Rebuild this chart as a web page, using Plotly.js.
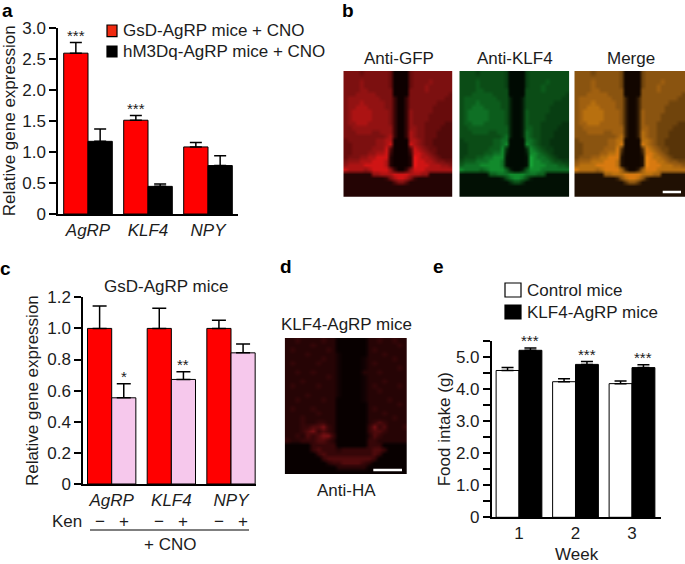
<!DOCTYPE html>
<html><head><meta charset="utf-8">
<script src="https://cdn.plot.ly/plotly-3.0.1.min.js"></script>
<style>html,body{margin:0;padding:0;background:#fff}</style></head>
<body><div id="chart" style="width:685px;height:564px"></div>
<script>
// ---- panel a
const genes = ['AgRP','KLF4','NPY'];
const aGsd = [2.59,1.51,1.08];
const aGsdErr = [0.17,0.075,0.07];
const aHm3 = [1.17,0.445,0.78];
const aHm3Err = [0.20,0.04,0.16];
const aStars = ['***','***',''];
// ---- panel c
const cNoKen = [1.0,1.0,1.0];
const cNoKenErr = [0.144,0.13,0.052];
const cKen = [0.554,0.672,0.843];
const cKenErr = [0.09,0.05,0.057];
const cStars = ['*','**',''];
// ---- panel e
const weeks = ['1','2','3'];
const eControl = [4.58,4.23,4.17];
const eControlErr = [0.09,0.09,0.08];
const eKlf = [5.21,4.77,4.67];
const eKlfErr = [0.07,0.09,0.09];
const eStars = ['***','***','***'];
// ---- micrographs: coarse brightness (0-9)
const sectionRows = [
"555545555554000045555555555",
"555555555554000045555555555",
"555565555554000045555655555",
"555565555554000045556555555",
"555566555555000055556555555",
"555666665555000055555555554",
"566666666555200255555555544",
"566676666655200255555554444",
"566777666655200255555544444",
"567777766665200265555544444",
"567777766665200265555444444",
"567777766665200265555444444",
"566777666665200265554444433",
"556666666666200266554444333",
"555666655666200276554443333",
"555555555567200276554443333",
"455555556677000077654433333",
"445555556678000087654433333",
"445555566683000038765443333",
"445555667782000028876543333",
"455566778881000019877654333",
"566677788871000019887765544",
"677778888871000019888777665",
"877776788886200268887777777",
"111111166777888877766111111",
"111111111125788752111111111",
"111111111111355311111111111",
"111111111111111111111111111",
"111111111111111111111111111",
"111111111111111111111111111"];
const haRows = [
"223222232200000022322322",
"222223222200000022222232",
"232222223200000023222222",
"222232222210000022232222",
"222222232210000122222322",
"232222322210000123222222",
"222222222210000122222232",
"223223222210000222322222",
"222222223210000122222222",
"222322222210000122232222",
"232222322210000123222232",
"222222222210000122322222",
"222232222210000122222222",
"223222232200000122223222",
"222222222200000022222232",
"232223222200000023222222",
"222222322200000022232222",
"222322222200000022222322",
"222322332200000023432222",
"222334453200000035342223",
"222345343200000034432222",
"223243455300000024322222",
"322333443200000033222222",
"000003333300000033300000",
"000003433323333334430000",
"000000343333333334300000",
"000000034444444443000000",
"000000002334444320000000",
"000000000022222200000000",
"000000000000000000000000"];
const toGrid = rows => rows.map(r => r.split('').map(Number));
const sectionZ = toGrid(sectionRows);
const haZ = toGrid(haRows);

const FONT = 'Liberation Sans, Arial, sans-serif';
const INK = '#1c1c1c';
const W = 685, H = 564;
const px = x => x / W, py = y => 1 - y / H;
const barTrace = (x, y, err, fill, name, ax, cap) => ({
  type:'bar', x, y, name, xaxis:'x'+ax, yaxis:'y'+ax, showlegend:false,
  marker:{color:fill, line:{color:'#000', width:1}},
  error_y:{type:'data', symmetric:false, array:err, arrayminus:err.map(()=>0), color:'#000', thickness:1.5, width:cap},
  hoverinfo:'x+y'
});
const imgTrace = (z, ax, scale) => ({
  type:'heatmap', z, xaxis:'x'+ax, yaxis:'y'+ax, colorscale:scale, zmin:0, zmax:9, zauto:false,
  zsmooth:'best', showscale:false, hoverinfo:'skip'
});
const steps = cols => cols.map((c,i) => [i/(cols.length-1), c]);
const redScale   = steps(['#0e0000','#240404','#3a0606','#520909','#680c0c','#7c1010','#921212','#ac1313','#d01414','#f01616']);
const greenScale = steps(['#000a02','#021004','#041e08','#06300e','#083e12','#0b4c16','#0c5c1c','#0f7025','#128a2c','#18a838']);
const mergeScale = steps(['#120600','#201003','#3c2206','#583408','#70440c','#8a5410','#a06010','#b8700f','#d87a10','#f08a14']);
const haScale    = steps(['#080000','#120203','#260405','#360608','#500a0c','#781014','#b01c28','#e03040','#f04050','#ff5060']);

const data = [
  barTrace(genes,aGsd,aGsdErr,'#ff0000','GsD-AgRP mice + CNO','',6),
  barTrace(genes,aHm3,aHm3Err,'#000000','hM3Dq-AgRP mice + CNO','',6),
  barTrace(genes,cNoKen,cNoKenErr,'#ff0000','Ken −','2',7),
  barTrace(genes,cKen,cKenErr,'#f6c8ec','Ken +','2',7),
  barTrace(weeks,eControl,eControlErr,'#ffffff','Control mice','3',6),
  barTrace(weeks,eKlf,eKlfErr,'#000000','KLF4-AgRP mice','3',6),
  imgTrace(sectionZ,'4',redScale),
  imgTrace(sectionZ,'5',greenScale),
  imgTrace(sectionZ,'6',mergeScale),
  imgTrace(haZ,'7',haScale)
];

const yAxis = (top,bottom,left,range,vals,labels,standoff,titleText,anchor) => ({
  domain:[py(bottom),py(top)], range, anchor, tickmode:'array', tickvals:vals, ticktext:labels,
  ticks:'outside', ticklen:7, tickwidth:1.5, tickcolor:'#000', showline:true, linecolor:'#000', linewidth:1.5,
  showgrid:false, zeroline:false, tickfont:{family:FONT,size:17,color:INK}, ticklabelstandoff:0,
  title:{text:titleText, font:{family:FONT,size:17,color:INK}, standoff}, fixedrange:true
});
const xAxis = (left,right,range,italic,anchor) => ({
  domain:[px(left),px(right)], range, type:'category', anchor, ticks:'', showline:true, linecolor:'#000', linewidth:1.5,
  showgrid:false, zeroline:false, fixedrange:true, ticklabelstandoff:0,
  tickfont:{family:FONT,size:17,color:INK,style:italic?'italic':'normal'}
});
const imgAxes = (l,r,t,b) => ({
  x:{domain:[px(l),px(r)], visible:false, fixedrange:true, anchor:'free'},
  y:{domain:[py(b),py(t)], visible:false, fixedrange:true, autorange:'reversed', anchor:'free'}
});
const i4 = imgAxes(343.3,452.7,71,196.7), i5 = imgAxes(459.3,569.3,71,196.7),
      i6 = imgAxes(574.3,685,71,196.7), i7 = imgAxes(284.7,407,338,474.3);

const label = (text,x,y,extra={}) => Object.assign({
  text, xref:'paper', yref:'paper', x:px(x), y:py(y), xanchor:'center', yanchor:'middle',
  showarrow:false, font:{family:FONT,size:17,color:INK}
}, extra);
const letter = (t,x,y) => label(t,x,y,{font:{family:FONT,size:19,color:'#000',weight:700}});
const OFF = 0.2025;
const stars = (list,tops,errs,side,ax) => list.map((s,i) => s ? ({
  text:s, xref:'x'+ax, yref:'y'+ax, x:i+side*OFF, y:tops[i]+errs[i], yanchor:'bottom', xanchor:'center',
  yshift:-3, showarrow:false, font:{family:FONT,size:15,color:INK}
}) : null).filter(Boolean);
const kenMarks = ['−','+','−','+','−','+'].map((m,i) => ({
  text:m, xref:'x2', yref:'paper', x:Math.floor(i/2)+(i%2?OFF:-OFF), y:py(521), yanchor:'middle', xanchor:'center',
  showarrow:false, font:{family:FONT,size:17,color:INK}
}));

const swatch = (x0,y0,x1,y1,fill) => ({type:'rect',xref:'paper',yref:'paper',x0:px(x0),x1:px(x1),y0:py(y0),y1:py(y1),fillcolor:fill,line:{color:'#000',width:1.2}});
const scaleBar = (x0,x1,y) => ({type:'line',xref:'paper',yref:'paper',x0:px(x0),x1:px(x1),y0:py(y),y1:py(y),line:{color:'#fff',width:2.5}});

const layout = {
  width:W, height:H, margin:{l:0,r:0,t:0,b:0}, paper_bgcolor:'#fff', plot_bgcolor:'rgba(0,0,0,0)',
  barmode:'group', bargap:0.19, bargroupgap:0, showlegend:false,
  font:{family:FONT,color:INK},
  xaxis:xAxis(58,238,[-0.5,2.5],true,'y'),
  yaxis:yAxis(27.7,214,58,[0,3],[0,0.5,1,1.5,2,2.5,3],['0','0.5','1.0','1.5','2.0','2.5','3.0'],8,'Relative gene expression','x'),
  xaxis2:xAxis(83,256,[-0.481,2.419],true,'y2'),
  yaxis2:yAxis(297.3,484,83,[0,1.2],[0,0.2,0.4,0.6,0.8,1,1.2],['0','0.2','0.4','0.6','0.8','1.0','1.2'],4,'Relative gene expression','x2'),
  xaxis3:xAxis(491.7,660.7,[-0.483,2.508],false,'y3'),
  yaxis3:yAxis(341,517.3,491.7,[0,5.5],[0,0.5,1,1.5,2,2.5,3,3.5,4,4.5,5,5.5],['0','','1.0','','2.0','','3.0','','4.0','','5.0',''],1,'Food intake (g)','x3'),
  xaxis4:i4.x, yaxis4:i4.y, xaxis5:i5.x, yaxis5:i5.y, xaxis6:i6.x, yaxis6:i6.y, xaxis7:i7.x, yaxis7:i7.y,
  shapes:[
    swatch(107,25,117,36.7,'#f02a10'),
    swatch(107,46,117,57,'#000'),
    swatch(505,283,521,297,'#fff'),
    swatch(505,305,521,319,'#000'),
    {type:'line',xref:'paper',yref:'paper',x0:px(90),x1:px(249),y0:py(530),y1:py(530),line:{color:'#000',width:1.2}},
    scaleBar(662.7,681,192),
    scaleBar(373.3,402,470)
  ],
  annotations:[
    letter('a',7,11), letter('b',348,11), letter('c',5,268), letter('d',286,266), letter('e',439,267),
    label(data[0].name,120.5,30,{xanchor:'left'}),
    label(data[1].name,120.5,51,{xanchor:'left'}),
    label('GsD-AgRP mice',166,286),
    label('Ken',84,521,{xanchor:'right'}),
    label('+ CNO',170,544),
    label('Anti-GFP',399,59), label('Anti-KLF4',515,59), label('Merge',630.7,59),
    label('KLF4-AgRP mice',346,324), label('Anti-HA',346,490.7),
    label(data[4].name,524.5,290,{xanchor:'left'}),
    label(data[5].name,524.5,312,{xanchor:'left'}),
    label('Week',577,554),
    ...kenMarks,
    ...stars(aStars,aGsd,aGsdErr,-1,''),
    ...stars(cStars,cKen,cKenErr,1,'2'),
    ...stars(eStars,eKlf,eKlfErr,1,'3')
  ]
};
Plotly.newPlot('chart',data,layout,{displayModeBar:false,responsive:false});
</script></body></html>
